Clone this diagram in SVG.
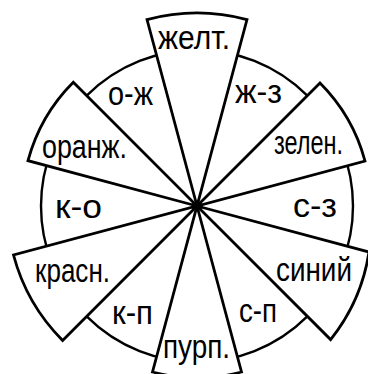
<svg xmlns="http://www.w3.org/2000/svg" width="368" height="374" viewBox="0 0 368 374">
<style>
.sec{fill:#fff;stroke:#000;stroke-width:2.8;stroke-linejoin:miter}
.ring{fill:none;stroke:#000;stroke-width:2.4}
.lbl{font-family:"Liberation Sans",Arial,sans-serif;font-size:34px;fill:#000}
</style>
<rect width="368" height="374" fill="#fff"/>
<g id="ring"><circle class="ring" cx="197" cy="206" r="156"/></g>
<g id="zhelt"><path class="sec" d="M197,206 L147,19.6 A193,193 0 0 1 247,19.6 Z"/><text class="lbl" x="158" y="49" textLength="72" lengthAdjust="spacingAndGlyphs">желт.</text></g>
<g id="zelen"><path class="sec" d="M197,206 L320,83 A174,174 0 0 1 365,161 Z"/><text class="lbl" x="274" y="154" textLength="69" lengthAdjust="spacingAndGlyphs">зелен.</text></g>
<g id="siniy"><path class="sec" d="M197,206 L369,252 A185,185 0 0 1 330.6,339.6 Z"/><text class="lbl" x="276" y="281" textLength="76" lengthAdjust="spacingAndGlyphs">синий</text></g>
<g id="purp"><path class="sec" d="M197,206 L241.5,372 A172,172 0 0 1 152.5,372 Z"/><text class="lbl" x="163" y="358" textLength="67" lengthAdjust="spacingAndGlyphs">пурп.</text></g>
<g id="krasn"><path class="sec" d="M197,206 L62.6,340.4 A190,190 0 0 1 13.5,255 Z"/><text class="lbl" x="35" y="282" textLength="75" lengthAdjust="spacingAndGlyphs">красн.</text></g>
<g id="oranzh"><path class="sec" d="M197,206 L28,160.7 A175,175 0 0 1 73.3,82.3 Z"/><text class="lbl" x="42" y="158" textLength="85" lengthAdjust="spacingAndGlyphs">оранж.</text></g>
<g id="o-zh"><text class="lbl" x="108" y="105" textLength="45" lengthAdjust="spacingAndGlyphs">о-ж</text></g>
<g id="zh-z"><text class="lbl" x="235" y="103" textLength="47" lengthAdjust="spacingAndGlyphs">ж-з</text></g>
<g id="s-z"><text class="lbl" x="293" y="217" textLength="44" lengthAdjust="spacingAndGlyphs">с-з</text></g>
<g id="s-p"><text class="lbl" x="239" y="322" textLength="38" lengthAdjust="spacingAndGlyphs">с-п</text></g>
<g id="k-p"><text class="lbl" x="112" y="324" textLength="41" lengthAdjust="spacingAndGlyphs">к-п</text></g>
<g id="k-o"><text class="lbl" x="55" y="218" textLength="47" lengthAdjust="spacingAndGlyphs">к-о</text></g>
<g id="connectors"><circle cx="197" cy="206" r="3.5" fill="#000"/></g>
</svg>
